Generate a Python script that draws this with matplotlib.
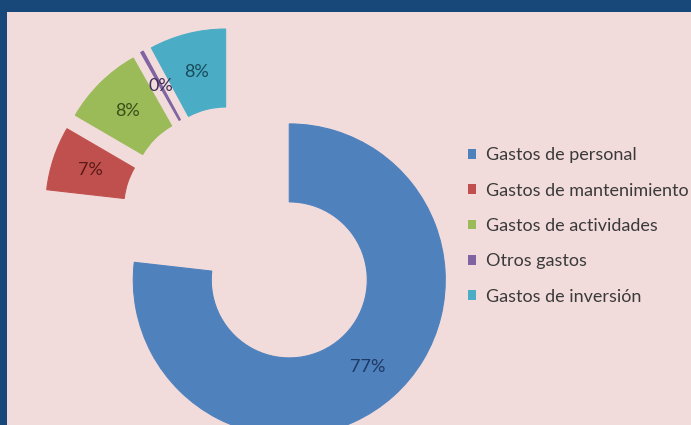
import matplotlib
matplotlib.use("Agg")
import matplotlib.pyplot as plt
from matplotlib.patches import Patch

# datos
categorias = ["Gastos de personal", "Gastos de mantenimiento",
              "Gastos de actividades", "Otros gastos", "Gastos de inversión"]
valores = [76.8, 6.6, 8.4, 0.3, 7.9]
colores = ["#4F81BD", "#C0504D", "#9BBB59", "#8064A2", "#4BACC6"]
colores_txt = ["#1F3864", "#5A1A18", "#3B4F17", "#3F2F5A", "#174C5A"]

W, H = 691, 425
fig = plt.figure(figsize=(W / 100, H / 100), dpi=100, facecolor="#18477A")
# panel rosa (en pixeles)
px0, py_top = 7, 12
ax = fig.add_axes([px0 / W, 0, (W - px0) / W, (H - py_top) / H])
ax.add_artist(plt.Rectangle((0, 0), W - px0, H - py_top, color="#F2DCDB", zorder=0))

R = 156
centro = (234 - px0, H - 218)
explode = [83, 34, 34, 34, 34]

wedges, textos, autotextos = ax.pie(
    valores, colors=colores, radius=R, center=centro, startangle=90,
    counterclock=False, explode=explode, autopct="%.0f%%", pctdistance=0.75,
    wedgeprops=dict(width=78, linewidth=0.8),
    textprops=dict(fontsize=13, family="Lato"), frame=True)
for w, c in zip(wedges, colores):
    w.set_edgecolor(c)
for t, c in zip(autotextos, colores_txt):
    t.set_color(c)
ax.set_xlim(0, W - px0)
ax.set_ylim(0, H - py_top)
ax.set_aspect("equal")
ax.set_axis_off()

handles = [Patch(facecolor=c, edgecolor="none") for c in colores]
fig.legend(handles, categorias, loc="upper left", bbox_to_anchor=(452 / W, 1 - 131 / H),
           frameon=False, prop=dict(family="Lato", size=13), handlelength=0.45,
           handleheight=0.45, handletextpad=0.55, labelspacing=1.07, labelcolor="#3A3A3A")

fig.savefig("out.png", dpi=100, facecolor=fig.get_facecolor())
